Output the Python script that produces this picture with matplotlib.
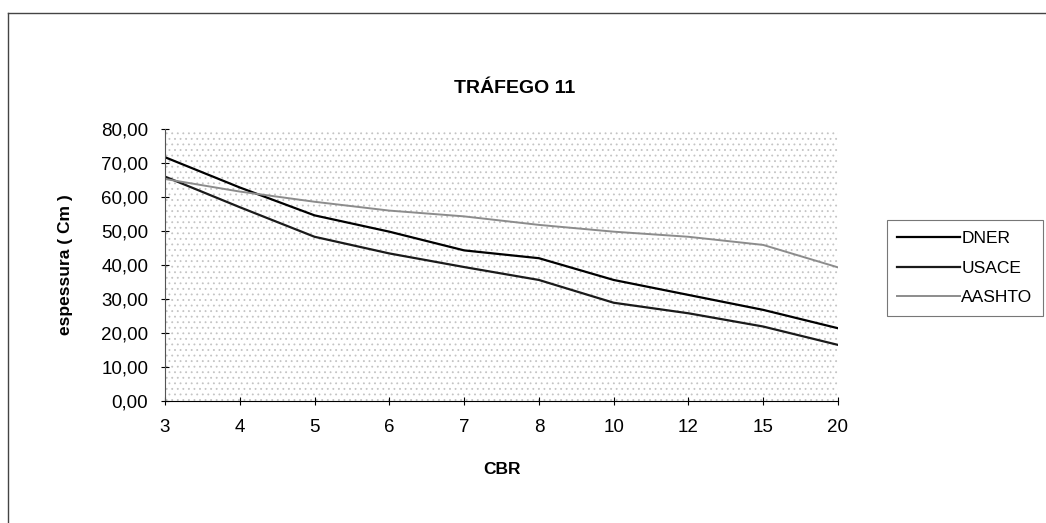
import matplotlib
matplotlib.use("Agg")
import matplotlib.pyplot as plt
from matplotlib.lines import Line2D

plt.rcParams['font.family'] = ['Liberation Sans', 'DejaVu Sans']
plt.rcParams['hatch.color'] = '#c4c4c4'
plt.rcParams['hatch.linewidth'] = 0.6

# CBR categories (evenly spaced, category axis)
cbr = ['3', '4', '5', '6', '7', '8', '10', '12', '15', '20']
dner = [71.7, 62.8, 54.6, 49.8, 44.3, 42.0, 35.6, 31.2, 26.8, 21.4]
usace = [66.0, 57.0, 48.3, 43.4, 39.4, 35.6, 28.9, 25.8, 21.9, 16.5]
aashto = [65.3, 61.6, 58.6, 56.0, 54.3, 51.8, 49.8, 48.3, 45.9, 39.3]
yticks = [0, 10, 20, 30, 40, 50, 60, 70, 80]

fig = plt.figure(figsize=(10.46, 5.23), dpi=100)
ax = fig.add_axes([165/1046, 1-401/523, (838-165)/1046, (401-129)/523])

pos = list(range(len(cbr)))
ax.plot(pos, dner, color='black', lw=1.6, label='DNER')
ax.plot(pos, usace, color='#1a1a1a', lw=1.6, label='USACE')
ax.plot(pos, aashto, color='#8c8c8c', lw=1.4, label='AASHTO')

ax.set_xlim(0, len(cbr)-1)
ax.set_ylim(0, 80)
ax.set_xticks(pos)
ax.set_xticklabels(cbr)
ax.set_yticks(yticks)
ax.set_yticklabels(['%d,00' % v for v in yticks])
ax.tick_params(axis='both', labelsize=13.5, direction='inout', length=6, width=0.8)
ax.tick_params(axis='x', pad=10)
ax.tick_params(axis='y', pad=9)

# dotted pattern background like the scanned Excel chart
ax.patch.set_hatch('...')
ax.patch.set_edgecolor('#c4c4c4')
for side in ['top', 'right']:
    ax.spines[side].set_visible(False)
ax.spines['left'].set_color('#555555')
ax.spines['bottom'].set_color('black')

ax.set_xlabel('CBR', fontsize=12.5, fontweight='bold', labelpad=19)
ax.set_ylabel('espessura ( Cm )', fontsize=12.5, fontweight='bold', labelpad=20)
fig.text(0.492, 1-88/523, 'TRÁFEGO 11', ha='center', va='center',
         fontsize=14, fontweight='bold')

leg = ax.legend(loc='center left', bbox_to_anchor=(878/1046, 1-268/523),
                bbox_transform=fig.transFigure, frameon=True, fancybox=False,
                fontsize=12.5, handlelength=3.6, handletextpad=0.1,
                labelspacing=0.85, borderpad=0.6)
leg.get_frame().set_edgecolor('#555555')
leg.get_frame().set_linewidth(0.8)

# outer frame (only left and top edges survive in the scan)
fig.add_artist(Line2D([8/1046, 8/1046], [0, 1-13/523], transform=fig.transFigure,
                      color='#444444', lw=1.0))
fig.add_artist(Line2D([8/1046, 1], [1-13/523, 1-13/523], transform=fig.transFigure,
                      color='#444444', lw=1.0))

fig.savefig('out.png', dpi=100)
